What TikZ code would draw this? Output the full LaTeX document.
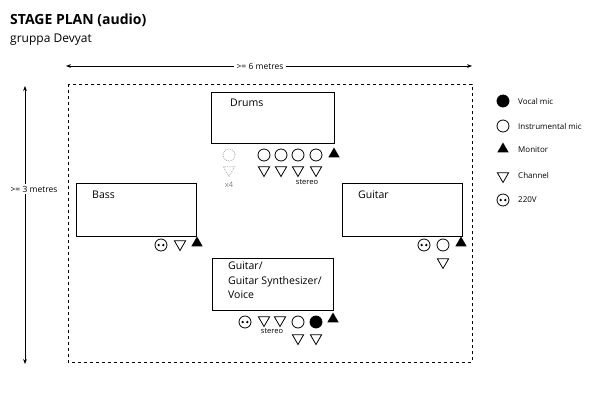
\documentclass[tikz,border=0pt]{standalone}
\usepackage{fontspec}
\setmainfont{Open Sans}
\usetikzlibrary{shapes.geometric,arrows.meta}
\begin{document}
\begin{tikzpicture}[x=1pt,y=-1pt,
  lbl/.style={font=\fontsize{10.5}{12}\selectfont,anchor=west,inner sep=0},
  leg/.style={font=\fontsize{8}{10}\selectfont,anchor=west,inner sep=0},
  box/.style={draw,line width=0.8pt},
  mic/.style={circle,draw,line width=0.8pt,minimum size=12pt,inner sep=0},
  vmic/.style={mic,fill=black},
  chan/.style={regular polygon,regular polygon sides=3,shape border rotate=180,draw,line width=0.8pt,minimum size=13pt,inner sep=0},
  mon/.style={regular polygon,regular polygon sides=3,fill=black,minimum size=13pt,inner sep=0},
  plug/.style={mic,path picture={\fill (path picture bounding box.center) ++(-2.3pt,0) circle (1.3pt) ++(4.6pt,0) circle (1.3pt);}},
  ghost/.style={draw=gray!70,densely dotted},
  dim/.style={{Stealth[length=5pt]}-{Stealth[length=5pt]},line width=0.6pt}]
\useasboundingbox (0,0) rectangle (600,400);
\node[anchor=west,inner sep=0,font=\fontsize{14}{16}\selectfont\bfseries] (title) at (10,20) {STAGE PLAN (audio)};
\node[anchor=west,inner sep=0,font=\fontsize{12}{14}\selectfont] (sub) at (10,40) {gruppa Devyat};
% dimensions
\coordinate (hl) at (66,66); \coordinate (hr) at (472,66);
\draw[dim] (hl) -- (hr);
\node[fill=white,font=\fontsize{8.5}{10}\selectfont,inner sep=3pt] (hlab) at (260,66) {>= 6 metres};
\coordinate (vt) at (25,86); \coordinate (vb) at (25,364);
\draw[dim] (vt) -- (vb);
\node[fill=white,font=\fontsize{8.5}{10}\selectfont,inner sep=2pt] (vlab) at (34,189) {>= 3 metres};
\draw[dashed,line width=0.7pt] (68,84) rectangle (472,362);
% Drums
\draw[box] (211,92) rectangle (334,143);
\node[lbl] (drums) at (230,103) {Drums};
\node[mic,ghost] (dg) at (229,155) {};
\node[chan,ghost] (dgc) at (229,170) {};
\node[font=\fontsize{7.5}{9}\selectfont,text=gray,inner sep=0] (x4) at (229,185) {x4};
\foreach \i/\x in {1/264,2/281,3/298,4/316}{
  \node[mic] (dm\i) at (\x,155) {};
  \node[chan] (dc\i) at (\x,170) {};}
\node[mon] (dmon) at (334,154) {};
\node[font=\fontsize{7.5}{9}\selectfont,inner sep=0] (dst) at (307,182) {stereo};
% Bass
\draw[box] (76,183) rectangle (196,236);
\node[lbl] (bass) at (92,195) {Bass};
\node[plug] (bp) at (161,245) {};
\node[chan] (bc) at (180,244) {};
\node[mon] (bm) at (197,243) {};
% Guitar
\draw[box] (342,183) rectangle (462,236);
\node[lbl] (gtr) at (358,195) {Guitar};
\node[plug] (gp) at (424,245) {};
\node[mic] (gm) at (443,245) {};
\node[mon] (gmon) at (461,243) {};
\node[chan] (gc) at (443,262) {};
% Guitar synth
\draw[box] (212,258) rectangle (333,310);
\node[lbl,align=left,anchor=north west,font=\fontsize{10.5}{14.5}\selectfont] (gs) at (228,262) {Guitar/\\Guitar Synthesizer/\\Voice};
\node[plug] (sp) at (245,322) {};
\node[chan] (sc1) at (264,320) {};
\node[chan] (sc2) at (280,320) {};
\node[font=\fontsize{7.5}{9}\selectfont,inner sep=0] (sst) at (272,331) {stereo};
\node[mic] (sm) at (298,322) {};
\node[vmic] (sv) at (316,322) {};
\node[mon] (smon) at (333,319) {};
\node[chan] (sc3) at (298,338) {};
\node[chan] (sc4) at (316,338) {};
% legend
\node[vmic] (l1) at (503,101) {}; \node[leg] (t1) at (518,101) {Vocal mic};
\node[mic] (l2) at (503,126) {}; \node[leg] (t2) at (518,126) {Instrumental mic};
\node[mon] (l3) at (503,149) {}; \node[leg] (t3) at (518,150) {Monitor};
\node[chan] (l4) at (503,176) {}; \node[leg] (t4) at (518,175) {Channel};
\node[plug] (l5) at (503,200) {}; \node[leg] (t5) at (518,200) {220V};
\end{tikzpicture}
\end{document}
